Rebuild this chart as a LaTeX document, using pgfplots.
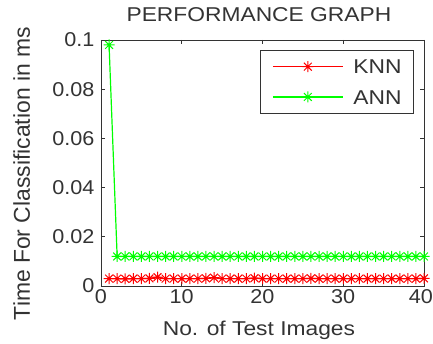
\documentclass[border=0pt]{standalone}
\usepackage{fontspec}
\setmainfont{Liberation Sans}[FakeStretch=1.14]
\newfontfamily\ylabfont{Liberation Sans}
\newfontfamily\tickfont{Liberation Sans}[FakeStretch=1.08]
\usepackage{pgfplots}
\pgfplotsset{compat=1.18}
\definecolor{mgreen}{RGB}{0,255,0}
\pgfdeclareplotmark{matstar}{%
 \pgfpathmoveto{\pgfqpoint{-\pgfplotmarksize}{0pt}}\pgfpathlineto{\pgfqpoint{\pgfplotmarksize}{0pt}}%
 \pgfpathmoveto{\pgfqpoint{0pt}{-\pgfplotmarksize}}\pgfpathlineto{\pgfqpoint{0pt}{\pgfplotmarksize}}%
 \pgfpathmoveto{\pgfqpoint{-0.707\pgfplotmarksize}{-0.707\pgfplotmarksize}}\pgfpathlineto{\pgfqpoint{0.707\pgfplotmarksize}{0.707\pgfplotmarksize}}%
 \pgfpathmoveto{\pgfqpoint{-0.707\pgfplotmarksize}{0.707\pgfplotmarksize}}\pgfpathlineto{\pgfqpoint{0.707\pgfplotmarksize}{-0.707\pgfplotmarksize}}%
 \pgfusepathqstroke}
\pgfplotstableread{
x y
1 0.0030
2 0.0030
3 0.0029
4 0.0030
5 0.0030
6 0.0031
7 0.0036
8 0.0030
9 0.0030
10 0.0030
11 0.0030
12 0.0030
13 0.0031
14 0.0034
15 0.0030
16 0.0030
17 0.0030
18 0.0030
19 0.0032
20 0.0030
21 0.0030
22 0.0030
23 0.0030
24 0.0030
25 0.0030
26 0.0031
27 0.0030
28 0.0030
29 0.0030
30 0.0030
31 0.0030
32 0.0030
33 0.0030
34 0.0030
35 0.0030
36 0.0030
37 0.0030
38 0.0030
39 0.0030
40 0.0031
}\knn
\pgfplotstableread{
x y
1 0.0980
2 0.0120
3 0.0120
4 0.0120
5 0.0120
6 0.0120
7 0.0120
8 0.0120
9 0.0120
10 0.0120
11 0.0120
12 0.0120
13 0.0120
14 0.0120
15 0.0120
16 0.0120
17 0.0120
18 0.0120
19 0.0120
20 0.0120
21 0.0120
22 0.0120
23 0.0120
24 0.0120
25 0.0120
26 0.0120
27 0.0120
28 0.0120
29 0.0120
30 0.0120
31 0.0120
32 0.0120
33 0.0120
34 0.0120
35 0.0120
36 0.0120
37 0.0120
38 0.0120
39 0.0120
40 0.0120
}\ann
\begin{document}
\begin{tikzpicture}[font=\fontsize{20}{24}\selectfont]
\begin{axis}[
  scale only axis,
  width=323pt, height=246pt,
  xmin=0, xmax=40, ymin=0, ymax=0.1,
  xtick={0,10,20,30,40},
  xticklabels={0,10,20,30,{\hspace*{-6pt}40}},
  ytick={0,0.02,0.04,0.06,0.08,0.1},
  yticklabels={0,0.02,0.04,0.06,0.08,0.1},
  tick align=inside,
  major tick length=4pt,
  axis line style={black!80, line width=0.9pt},
  every tick/.style={black!80, line width=0.8pt},
  tick label style={font=\tickfont\fontsize{20}{24}\selectfont, text=black!80},
  /pgf/number format/assume math mode=true,
  xticklabel style={yshift=-0.5pt},
  yticklabel style={xshift=-3pt},
  xlabel={No. of Test Images},
  ylabel={\ylabfont\fontsize{22.9}{26}\selectfont Time For Classification in ms},
  xlabel style={at={(axis description cs:0.489,-0.182)}, anchor=center, text=black!80},
  ylabel style={at={(axis description cs:-0.2455,0.457)}, anchor=center, text=black!80},
  title={PERFORMANCE GRAPH},
  title style={at={(axis description cs:0.489,1.0805)}, anchor=center, text=black!80},
  legend style={at={(0.969,0.959)}, anchor=north east, draw=black!80, line width=0.9pt,
    font=\fontsize{20}{24}\selectfont, text=black!80,
    nodes={inner sep=0pt, text height=14.3pt, text depth=0pt},
    inner xsep=12pt, inner ysep=9pt, row sep=16pt, column sep=10pt},
  legend cell align=left,
  legend image code/.code={%
    \draw[#1, mark=none] (0pt,0pt) -- (70pt,0pt);
    \draw[#1, only marks] plot coordinates {(35pt,0pt)};},
]
\addplot[red, line width=1.2pt, mark=matstar, mark size=5.5pt, mark options={line width=1pt}] table[x=x,y=y] {\knn};
\addlegendentry{KNN}
\addplot[mgreen, line width=1.2pt, mark=matstar, mark size=5.5pt, mark options={line width=1pt}] table[x=x,y=y] {\ann};
\addlegendentry{ANN}
\end{axis}
\pgfresetboundingbox
\path (current axis.south west) ++(-101pt,-58pt) coordinate (bl);
\path (current axis.north east) ++(9pt,40pt) coordinate (tr);
\path[use as bounding box] (bl) rectangle (tr);
\end{tikzpicture}
\end{document}
